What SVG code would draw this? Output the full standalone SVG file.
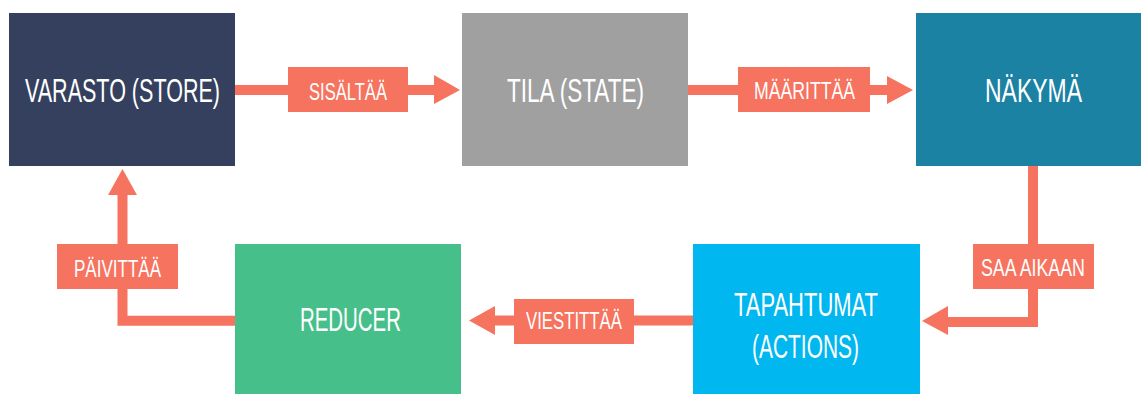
<svg xmlns="http://www.w3.org/2000/svg" width="1141" height="394" viewBox="0 0 1141 394">
<style>
.node-text{font-family:"Liberation Sans",Arial,sans-serif;font-size:33px;fill:#ffffff}
.lbl-text{font-family:"Liberation Sans",Arial,sans-serif;font-size:23px;fill:#ffffff}
.line{stroke:#f6735f;stroke-width:10;fill:none}
.head{fill:#f6735f}
.lbl{fill:#f6735f}
</style>
<rect width="1141" height="394" fill="#ffffff"/>
<g id="connectors">
  <g id="c-sisaltaa">
    <line class="line" x1="235" y1="90" x2="436" y2="90"/>
    <polygon class="head" points="434,75 460,90 434,104"/>
    <rect class="lbl" x="288" y="67" width="120" height="45"/>
    <text class="lbl-text" transform="scale(0.7,1)" x="441.43" y="100" textLength="111.43" lengthAdjust="spacingAndGlyphs">SISÄLTÄÄ</text>
  </g>
  <g id="c-maarittaa">
    <line class="line" x1="688" y1="90" x2="889" y2="90"/>
    <polygon class="head" points="887,76 913,90 887,104"/>
    <rect class="lbl" x="738" y="67" width="132" height="45"/>
    <text class="lbl-text" transform="scale(0.7,1)" x="1077.14" y="99" textLength="144.29" lengthAdjust="spacingAndGlyphs">MÄÄRITTÄÄ</text>
  </g>
  <g id="c-saa-aikaan">
    <polyline class="line" points="1033,166 1033,322 946,322"/>
    <polygon class="head" points="948,306 922,321 948,335"/>
    <rect class="lbl" x="973" y="244" width="121" height="45"/>
    <text class="lbl-text" transform="scale(0.7,1)" x="1401.43" y="276" textLength="148.57" lengthAdjust="spacingAndGlyphs">SAA AIKAAN</text>
  </g>
  <g id="c-viestittaa">
    <line class="line" x1="693" y1="320.5" x2="493" y2="320.5"/>
    <polygon class="head" points="495,306 469,320.5 495,335"/>
    <rect class="lbl" x="514" y="299" width="120" height="45"/>
    <text class="lbl-text" transform="scale(0.7,1)" x="751.43" y="329" textLength="137.14" lengthAdjust="spacingAndGlyphs">VIESTITTÄÄ</text>
  </g>
  <g id="c-paivittaa">
    <polyline class="line" points="235,320.7 122.5,320.7 122.5,193"/>
    <polygon class="head" points="108,195 122.5,169 137,195"/>
    <rect class="lbl" x="57" y="244" width="121" height="45"/>
    <text class="lbl-text" transform="scale(0.7,1)" x="105.71" y="277" textLength="124.29" lengthAdjust="spacingAndGlyphs">PÄIVITTÄÄ</text>
  </g>
</g>
<g id="node-store">
  <rect x="9" y="13" width="226" height="153" fill="#34405e"/>
  <text class="node-text" transform="scale(0.68,1)" x="36.76" y="102" textLength="286.76" lengthAdjust="spacingAndGlyphs">VARASTO (STORE)</text>
</g>
<g id="node-state">
  <rect x="462" y="13" width="226" height="153" fill="#a0a0a0"/>
  <text class="node-text" transform="scale(0.68,1)" x="745.59" y="102" textLength="201.47" lengthAdjust="spacingAndGlyphs">TILA (STATE)</text>
</g>
<g id="node-view">
  <rect x="916" y="13" width="225" height="153" fill="#1c82a3"/>
  <text class="node-text" transform="scale(0.68,1)" x="1448.53" y="102" textLength="142.65" lengthAdjust="spacingAndGlyphs">NÄKYMÄ</text>
</g>
<g id="node-actions">
  <rect x="693" y="244" width="227" height="150" fill="#01b7ef"/>
  <text class="node-text" transform="scale(0.68,1)" x="1079.41" y="316" textLength="211.76" lengthAdjust="spacingAndGlyphs">TAPAHTUMAT</text>
  <text class="node-text" transform="scale(0.68,1)" x="1105.88" y="358" textLength="157.35" lengthAdjust="spacingAndGlyphs">(ACTIONS)</text>
</g>
<g id="node-reducer">
  <rect x="235" y="244" width="226" height="150" fill="#47bf8b"/>
  <text class="node-text" transform="scale(0.68,1)" x="441.18" y="331" textLength="148.53" lengthAdjust="spacingAndGlyphs">REDUCER</text>
</g>
</svg>
